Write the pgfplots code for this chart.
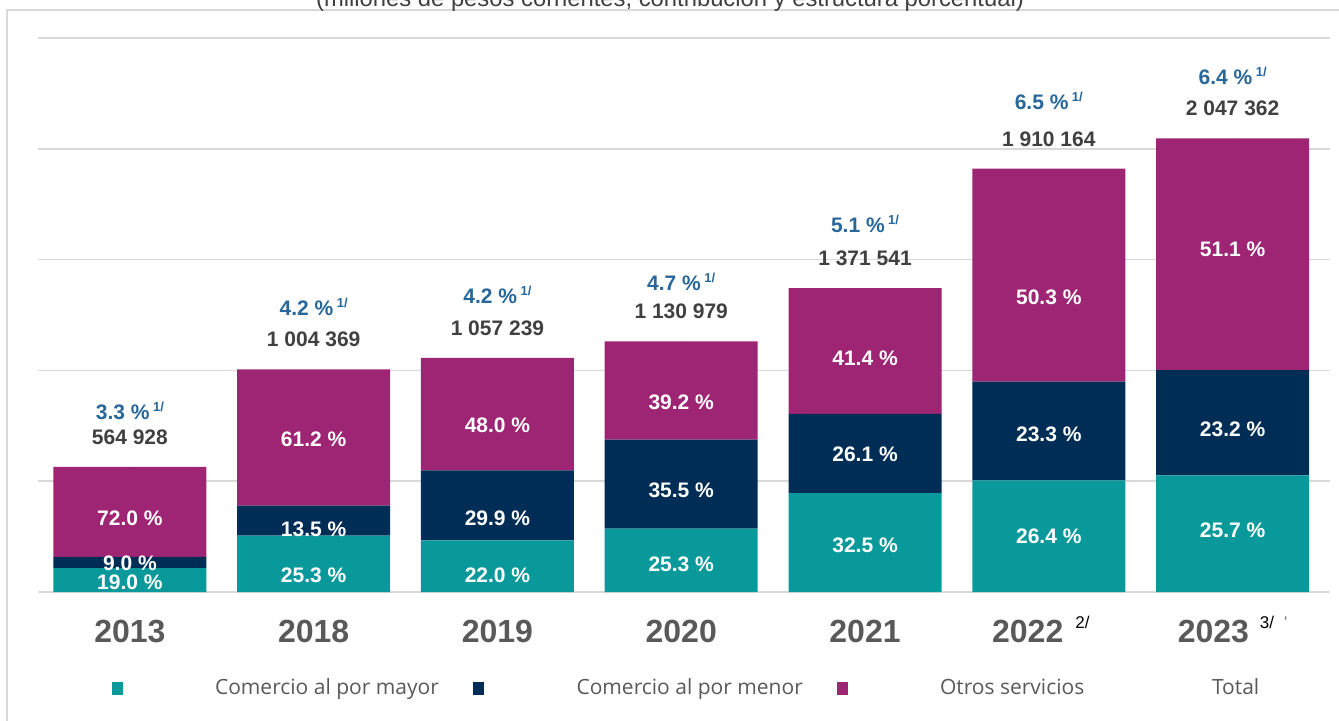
\documentclass[border=0pt]{standalone}
\usepackage{pgfplots}
\pgfplotsset{compat=1.18}
\usepackage{pgfplotstable}
\usepackage{fontspec}
\setmainfont{Liberation Sans}
\newfontfamily\legendfont{Open Sans}
\definecolor{cteal}{HTML}{0A999B}
\definecolor{cnavy}{HTML}{002D56}
\definecolor{cmag}{HTML}{9E2474}
\definecolor{cblue}{HTML}{28679A}
\definecolor{ctot}{HTML}{404040}
\definecolor{cyear}{HTML}{595959}
\definecolor{cgrid}{HTML}{D9D9D9}
\definecolor{cframe}{HTML}{D9D9D9}

% values (millones de pesos) and label positions (offsets in pt)
\pgfplotstableread{
idx mayor menor otros pmay pmen pot total tlab growth dma dme dot goff
0 107336 50844 406748 19.0 9.0 72.0 564928 564~928 3.3 -1.15 -0.15 -3.0 23.5
1 254105 135590 614674 25.3 13.5 61.2 1004369 1~004~369 4.2 -5.75 -4.15 -0.65 27
2 232593 316114 507475 22.0 29.9 48.0 1057239 1~057~239 4.2 -4.5 -6.65 -5.35 27
3 286138 401498 443344 25.3 35.5 39.2 1130979 1~130~979 4.7 -2.0 -2.85 -5.9 25.5
4 445751 357972 567818 32.5 26.1 41.4 1371541 1~371~541 5.1 -1.2 -0.25 -3.4 28
5 504283 445068 960813 26.4 23.3 50.3 1910164 1~910~164 6.5 -0.25 -1.65 -11.25 29.5
6 526172 474988 1046202 25.7 23.2 51.1 2047362 2~047~362 6.4 1.5 -3.35 2.3 27
}\data

\newcommand{\yearsup}[1]{\smash{\raisebox{7pt}{\fontsize{8.5}{9}\selectfont\mdseries\color{black}#1}}}

\begin{document}
\begin{tikzpicture}
% frame and title
\draw[cframe, line width=0.75pt] (3.5pt,-5pt) rectangle (720pt,-420pt);
\node[anchor=base, font=\fontsize{11.9}{13}\selectfont, text=ctot] at (335pt,-3.5pt)
  {(millones de pesos corrientes, contribución y estructura porcentual)};

\begin{axis}[
  at={(19pt,-296pt)}, anchor=south west,
  scale only axis, width=646pt, height=277pt,
  ybar stacked, bar width=76.5pt,
  xmin=-0.5, xmax=6.53, ymin=0, ymax=2500000,
  ytick={0,500000,1000000,1500000,2000000,2500000},
  yticklabels={}, scaled y ticks=false,
  ymajorgrids, grid style={cgrid, line width=0.75pt},
  axis line style={draw=none},
  major tick length=0pt,
  xtick={0,1,2,3,4,5,6},
  xticklabels={2013,2018,2019,2020,2021,{2022\hspace{6pt}\yearsup{2/}\kern8pt},{2023\hspace{5.5pt}\yearsup{3/\hspace{5pt}\textcolor{gray}{\textquotesingle}}}},
  xticklabel style={font=\fontsize{16}{18}\selectfont\bfseries, text=cyear, yshift=-10.5pt},
  legend columns=4,
  legend cell align=left,
  legend style={at={(0.0569,-0.1733)}, anchor=west, draw=none, fill=none,
    inner sep=0pt, outer sep=0pt, column sep=0pt,
    nodes={inner sep=0pt, text=cyear, font=\legendfont\fontsize{10.5}{12}\selectfont}},
]
\addplot[fill=cteal, draw=none,
  legend image code/.code={\fill[cteal] (0pt,-3.25pt) rectangle (5.5pt,3.25pt); \path[draw=none,fill=none] (0pt,0pt) -- (51.75pt,0pt);}]
  table[x=idx, y=mayor] {\data};
\addplot[fill=cnavy, draw=none,
  legend image code/.code={\fill[cnavy] (0pt,-3.25pt) rectangle (5.5pt,3.25pt); \path[draw=none,fill=none] (0pt,0pt) -- (51.75pt,0pt);}]
  table[x=idx, y=menor] {\data};
\addplot[fill=cmag, draw=none,
  legend image code/.code={\fill[cmag] (0pt,-3.25pt) rectangle (5.5pt,3.25pt); \path[draw=none,fill=none] (0pt,0pt) -- (51.75pt,0pt);}]
  table[x=idx, y=otros] {\data};
\addlegendentry{\makebox[129pt][l]{Comercio al por mayor}}
\addlegendentry{\makebox[130pt][l]{Comercio al por menor}}
\addlegendentry{\makebox[136pt][l]{Otros servicios}}
\addlegendimage{empty legend}
\addlegendentry{Total}
\end{axis}

\begin{axis}[
  at={(19pt,-296pt)}, anchor=south west,
  scale only axis, width=646pt, height=277pt,
  xmin=-0.5, xmax=6.53, ymin=0, ymax=2500000,
  hide axis, clip=false,
  point meta=explicit symbolic,
]
\addplot[only marks, mark=*, mark size=0pt, mark options={draw=none,fill=none},
  visualization depends on={\thisrow{dma} \as \dy},
  nodes near coords={\pgfplotspointmeta{} \%},
  every node near coord/.append style={anchor=center, yshift=\dy pt, text=white, font=\fontsize{10.5}{12}\selectfont\bfseries}]
  table[x=idx, y expr=\thisrow{mayor}/2, meta=pmay] {\data};
\addplot[only marks, mark=*, mark size=0pt, mark options={draw=none,fill=none},
  visualization depends on={\thisrow{dme} \as \dy},
  nodes near coords={\pgfplotspointmeta{} \%},
  every node near coord/.append style={anchor=center, yshift=\dy pt, text=white, font=\fontsize{10.5}{12}\selectfont\bfseries}]
  table[x=idx, y expr=\thisrow{mayor}+\thisrow{menor}/2, meta=pmen] {\data};
\addplot[only marks, mark=*, mark size=0pt, mark options={draw=none,fill=none},
  visualization depends on={\thisrow{dot} \as \dy},
  nodes near coords={\pgfplotspointmeta{} \%},
  every node near coord/.append style={anchor=center, yshift=\dy pt, text=white, font=\fontsize{10.5}{12}\selectfont\bfseries}]
  table[x=idx, y expr=\thisrow{mayor}+\thisrow{menor}+\thisrow{otros}/2, meta=pot] {\data};
\addplot[only marks, mark=*, mark size=0pt, mark options={draw=none,fill=none},
  nodes near coords={\pgfplotspointmeta},
  every node near coord/.append style={anchor=base, yshift=11.25pt, text=ctot, font=\fontsize{10.5}{12}\selectfont\bfseries}]
  table[x=idx, y=total, meta=tlab] {\data};
\addplot[only marks, mark=*, mark size=0pt, mark options={draw=none,fill=none},
  visualization depends on={\thisrow{goff} \as \gy},
  nodes near coords={\pgfplotspointmeta{} \%\,\raisebox{4pt}{\fontsize{6.5}{7}\selectfont 1/}},
  every node near coord/.append style={anchor=base, yshift=\gy pt, text=cblue, font=\fontsize{10.5}{12}\selectfont\bfseries}]
  table[x=idx, y=total, meta=growth] {\data};
\end{axis}

\pgfresetboundingbox
\useasboundingbox (0pt,0pt) rectangle (669.5pt,-360.5pt);
\end{tikzpicture}
\end{document}
